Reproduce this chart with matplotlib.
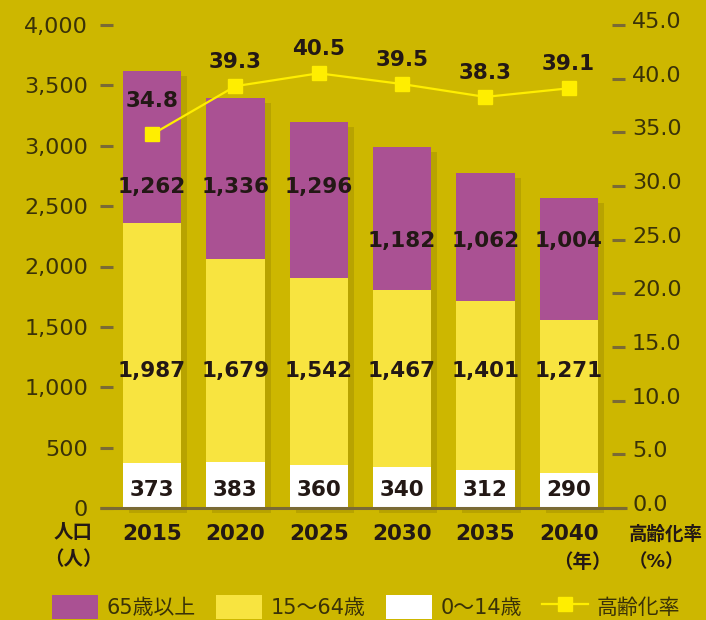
import matplotlib
matplotlib.use("Agg")
import matplotlib.pyplot as plt
import matplotlib.transforms as mtransforms
from matplotlib.patches import Patch
from matplotlib.lines import Line2D
import numpy as np

plt.rcParams['font.family'] = ['DejaVu Sans', 'Noto Sans CJK JP']

years = ['2015', '2020', '2025', '2030', '2035', '2040']
age_0_14 = [373, 383, 360, 340, 312, 290]
age_15_64 = [1987, 1679, 1542, 1467, 1401, 1271]
age_65_over = [1262, 1336, 1296, 1182, 1062, 1004]
aging_rate = [34.8, 39.3, 40.5, 39.5, 38.3, 39.1]

BG = '#cdb700'
SHADOW = '#b8a300'
PURPLE = '#aa5193'
YELLOW = '#f8e440'
WHITE = '#ffffff'
LINE = '#ffee00'
TICK = '#7a6a35'
TEXT = '#231815'
LABEL = '#3a3208'

W, H = 706, 620
fig = plt.figure(figsize=(W / 100, H / 100), dpi=100, facecolor=BG)
ax = fig.add_axes([113 / W, 112 / H, (612 - 113) / W, 483 / H])
ax.set_facecolor(BG)
ax.patch.set_alpha(0)

x = np.arange(len(years))
bw = 0.70
px_x = 1 / 83.3          # data units per pixel in x
px_y = 4000 / 483        # data units per pixel in y

totals = np.array(age_0_14) + np.array(age_15_64) + np.array(age_65_over)
# shadows
ax.bar(x + 6 * px_x, totals, bw, bottom=-5 * px_y, color=SHADOW, zorder=1, clip_on=False)
ax.bar(x, age_0_14, bw, color=WHITE, zorder=2)
ax.bar(x, age_15_64, bw, bottom=age_0_14, color=YELLOW, zorder=2)
ax.bar(x, age_65_over, bw, bottom=np.array(age_0_14) + np.array(age_15_64), color=PURPLE, zorder=2)

ax.set_xlim(-0.468, 5.52)
ax.set_ylim(0, 4000)
ax.set_yticks(np.arange(0, 4001, 500))
ax.set_yticklabels([f'{v:,}' for v in range(0, 4001, 500)])
ax.set_xticks([])
for s in ax.spines.values():
    s.set_visible(False)
ax.tick_params(axis='y', length=9.4, width=2.2, color=TICK, pad=8.6, labelsize=16, labelcolor=LABEL)

# baseline
ax.plot([-0.62, 5.70], [0, 0], color=TICK, lw=2.2, zorder=3, clip_on=False, solid_capstyle='butt')

# segment labels
lab_kw = dict(ha='center', va='center', fontsize=15.5, fontweight='bold', color=TEXT, zorder=5)
y65 = [2657, 2657, 2657, 2210, 2210, 2210]
for i in range(len(years)):
    ax.text(x[i], 149, f'{age_0_14[i]:,}', **lab_kw)
    ax.text(x[i], 1134, f'{age_15_64[i]:,}', **lab_kw)
    ax.text(x[i], y65[i], f'{age_65_over[i]:,}', **lab_kw)

# year labels
for i, yr in enumerate(years):
    ax.text(x[i], -26 * px_y, yr, ha='center', va='center', fontsize=15.5, fontweight='bold', color=TEXT)

# right axis
ax2 = ax.twinx()
ax2.set_ylim(0, 45)
ax2.set_xlim(ax.get_xlim())
ax2.set_yticks(np.arange(0, 45.1, 5))
ax2.set_yticklabels([f'{v:.1f}' for v in np.arange(0, 45.1, 5)])
for s in ax2.spines.values():
    s.set_visible(False)
ax2.tick_params(axis='y', length=9.4, width=2.2, color=TICK, pad=5, labelsize=16, labelcolor=LABEL)
off = mtransforms.ScaledTranslation(0, 5 / 100, fig.dpi_scale_trans)
for lbl in ax2.get_yticklabels():
    lbl.set_transform(lbl.get_transform() + off)

ax2.plot(x, aging_rate, color=LINE, lw=1.6, marker='s', markersize=9.5, zorder=6)
offsets = [33, 24, 24, 24, 24, 24]
for i, v in enumerate(aging_rate):
    ax2.annotate(f'{v:.1f}', (x[i], v), xytext=(0, offsets[i] * 0.72), textcoords='offset points',
                 ha='center', va='center', fontsize=15.5, fontweight='bold', color=TEXT, zorder=7)

# axis titles
fig.text(73 / W, 1 - 533 / H, '人口', ha='center', va='center', fontsize=14, fontweight='bold', color=TEXT)
fig.text(73 / W, 1 - 560 / H, '（人）', ha='center', va='center', fontsize=14, fontweight='bold', color=TEXT)
fig.text(582 / W, 1 - 562 / H, '（年）', ha='center', va='center', fontsize=14, fontweight='bold', color=TEXT)
fig.text(629 / W, 1 - 535 / H, '高齢化率', ha='left', va='center', fontsize=13.3, fontweight='bold', color=TEXT)
fig.text(629 / W, 1 - 562 / H, '（%）', ha='left', va='center', fontsize=13.3, fontweight='bold', color=TEXT)

# legend
handles = [Patch(facecolor=PURPLE), Patch(facecolor=YELLOW), Patch(facecolor=WHITE),
           Line2D([0], [0], color=LINE, lw=1.6, marker='s', markersize=9.5)]
labels = ['65歳以上', '15～64歳', '0～14歳', '高齢化率']
fig.legend(handles, labels, loc='center', bbox_to_anchor=(366 / W, 1 - 607 / H), ncol=4, frameon=False,
           fontsize=15, handlelength=2.2, handleheight=1.4, columnspacing=1.0, handletextpad=0.4,
           labelcolor=LABEL)

fig.savefig('out.png', dpi=100, facecolor=BG)
